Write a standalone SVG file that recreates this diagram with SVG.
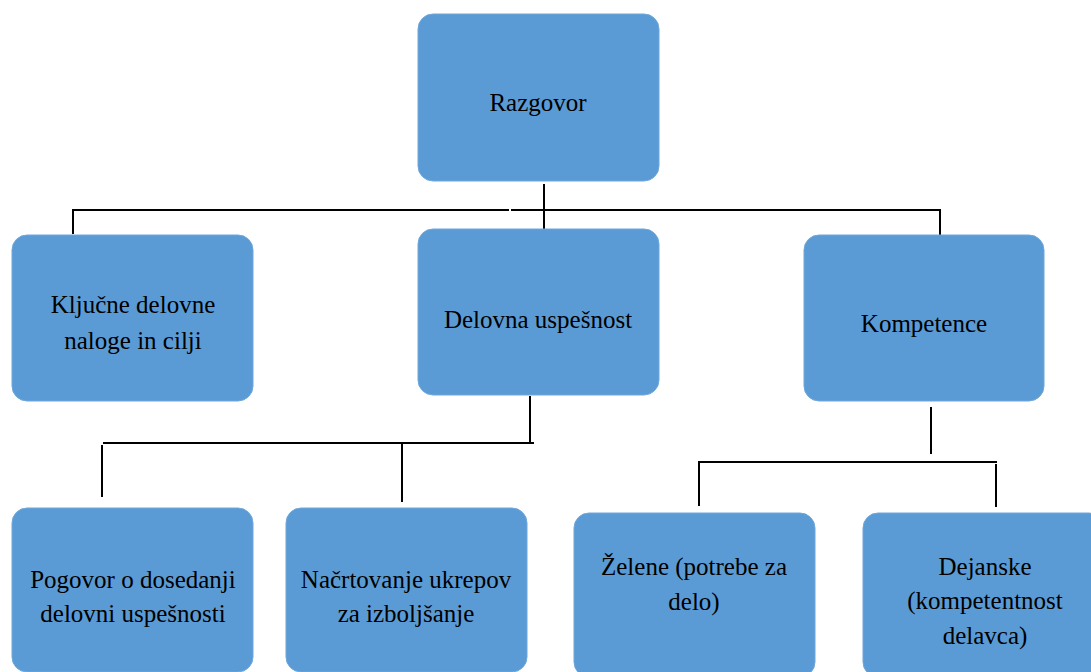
<svg xmlns="http://www.w3.org/2000/svg" width="1091" height="672" viewBox="0 0 1091 672">
<style>
.box{fill:#5B9BD5;stroke:#6FA7DA;stroke-width:1}
.t{font-family:"Liberation Serif","Times New Roman",serif;font-size:25px;fill:#000;text-anchor:middle}
.c{stroke:#000;stroke-width:2;fill:none}
</style>
<rect width="1091" height="672" fill="#fff"/>
<g id="connectors">
<line class="c" x1="544" y1="184" x2="544" y2="230"/>
<line class="c" x1="73" y1="210" x2="509" y2="210"/>
<line class="c" x1="511" y1="210" x2="941" y2="210"/>
<line class="c" x1="73" y1="209" x2="73" y2="234"/>
<line class="c" x1="940" y1="209" x2="940" y2="236"/>
<line class="c" x1="530" y1="396" x2="530" y2="443"/>
<line class="c" x1="103" y1="443" x2="534" y2="443"/>
<line class="c" x1="102" y1="445" x2="102" y2="497"/>
<line class="c" x1="402" y1="443" x2="402" y2="502"/>
<line class="c" x1="931" y1="407" x2="931" y2="454"/>
<line class="c" x1="698" y1="462" x2="997" y2="462"/>
<line class="c" x1="699" y1="461" x2="699" y2="506"/>
<line class="c" x1="996" y1="464" x2="996" y2="507"/>
</g>
<g id="razgovor">
<rect class="box" x="418" y="14" width="241" height="167" rx="15"/>
<text class="t" x="538" y="111">Razgovor</text>
</g>
<g id="kljucne">
<rect class="box" x="12" y="235" width="241" height="166" rx="15"/>
<text class="t" x="133" y="313">Ključne delovne</text>
<text class="t" x="133" y="349">naloge in cilji</text>
</g>
<g id="delovna">
<rect class="box" x="418" y="229" width="241" height="166" rx="15"/>
<text class="t" x="538" y="328">Delovna uspešnost</text>
</g>
<g id="kompetence">
<rect class="box" x="804" y="235" width="240" height="166" rx="15"/>
<text class="t" x="924" y="332">Kompetence</text>
</g>
<g id="pogovor">
<rect class="box" x="12" y="508" width="241" height="164" rx="15"/>
<text class="t" x="133" y="588">Pogovor o dosedanji</text>
<text class="t" x="133" y="622">delovni uspešnosti</text>
</g>
<g id="nacrtovanje">
<rect class="box" x="286" y="508" width="241" height="164" rx="15"/>
<text class="t" x="406" y="588">Načrtovanje ukrepov</text>
<text class="t" x="406" y="622">za izboljšanje</text>
</g>
<g id="zelene">
<rect class="box" x="574" y="513" width="241" height="164" rx="15"/>
<text class="t" x="694" y="575">Želene (potrebe za</text>
<text class="t" x="694" y="610">delo)</text>
</g>
<g id="dejanske">
<rect class="box" x="863" y="513" width="241" height="164" rx="15"/>
<text class="t" x="985" y="575">Dejanske</text>
<text class="t" x="985" y="609">(kompetentnost</text>
<text class="t" x="985" y="644">delavca)</text>
</g>
</svg>
